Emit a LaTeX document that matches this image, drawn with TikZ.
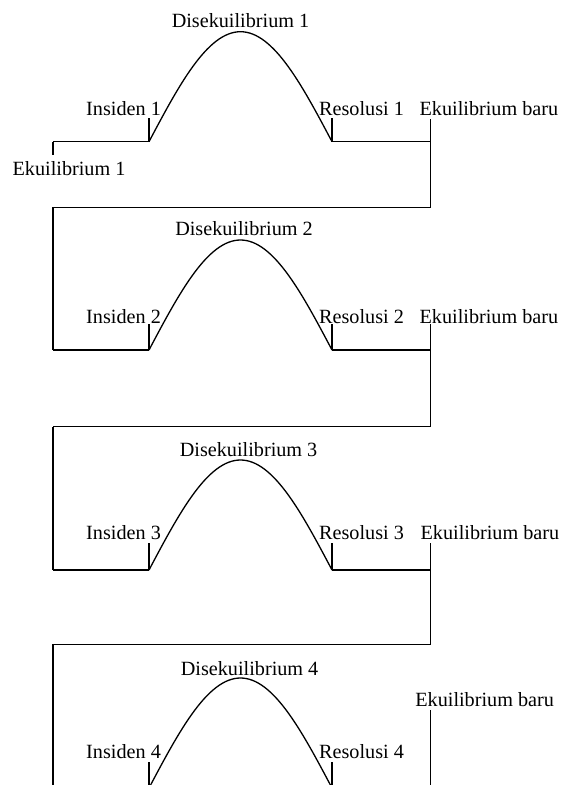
\documentclass[tikz,border=0pt]{standalone}
\usepackage{fontspec}
\setmainfont{Liberation Serif}

\begin{document}
\begin{tikzpicture}[x=1pt, y=-1pt, line width=1.3pt,
  lbl/.style={inner sep=0pt, anchor=base west, font=\fontsize{20.2}{24}\selectfont}]

\useasboundingbox (0,0) rectangle (561,785);
\clip (0,0) rectangle (561,785);

% blocks: n / base / tick top / right top / right bottom / dis x / dis y / label y / baru x / baru y
\foreach \n/\b/\tk/\ry/\rb/\dx/\dy/\ly/\ex/\ey in {
    1/141.7/118.3/119/207.3/240.5/27.3/115.8/419/115.8,
    2/350/324/324/426.7/244/235.7/323.7/419/323.7,
    3/570/543.3/543.3/644.3/248.6/456.7/539.3/420/539.3,
    4/788/761.7/710/800/249.6/675/758/414.7/706.7} {
  \coordinate (beg\n) at (53,\b);
  \coordinate (ins\n) at (149,\b);
  \coordinate (res\n) at (332,\b);
  \coordinate (end\n) at (430.5,\b);
  \coordinate (up\n) at (430.5,\ry);
  \coordinate (turn\n) at (430.5,\rb);
  \coordinate (back\n) at (53,\rb);

  % base line and curve
  \draw (beg\n) -- (ins\n);
  \draw plot[domain=0:180, samples=61, smooth, variable=\s] ({149+1.0167*\s},{\b-110*sin(\s)});
  \draw (res\n) -- (end\n);
  \draw (up\n) -- (turn\n) -- (back\n);

  % ticks
  \draw (ins\n) -- (149,\tk);
  \draw (res\n) -- (332,\tk);

  % labels
  \node[lbl, anchor=base] (dis\n) at (\dx,\dy) {Disekuilibrium \n};
  \node[lbl, anchor=base east] (insl\n) at (161.5,\ly) {Insiden \n};
  \node[lbl] (resl\n) at (318.5,\ly) {Resolusi \n};
  \node[lbl] (baru\n) at (\ex,\ey) {Ekuilibrium baru};
}

% links
\draw (beg1) -- ++(0,13.3);
\foreach \n/\m in {1/2, 2/3, 3/4} {
  \draw (back\n) -- (beg\m);
}
\node[lbl] (eku1) at (12,175) {Ekuilibrium 1};

\end{tikzpicture}
\end{document}
